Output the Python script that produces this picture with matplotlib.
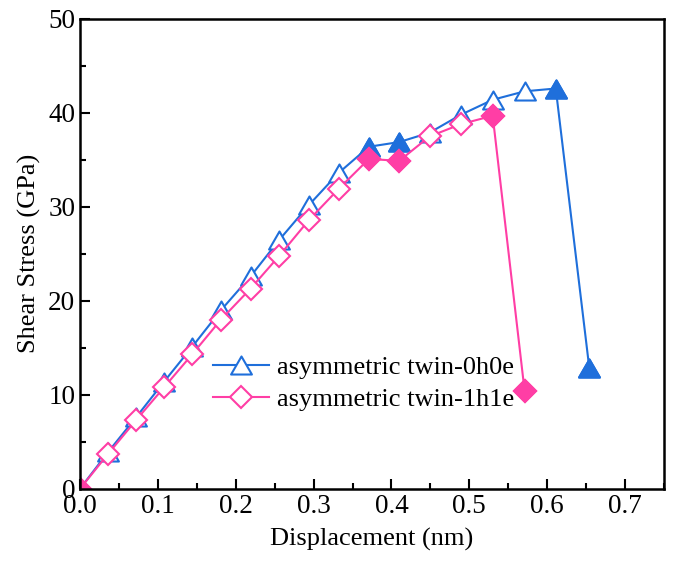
import matplotlib
matplotlib.use("Agg")
import matplotlib.pyplot as plt
from matplotlib.path import Path
from matplotlib.ticker import MultipleLocator

# displacement (nm) and shear stress (GPa)
disp_0h0e = [0.0, 0.036, 0.072, 0.108, 0.144, 0.181, 0.219, 0.256, 0.294,
             0.332, 0.371, 0.410, 0.449, 0.489, 0.530, 0.571, 0.611, 0.654]
stress_0h0e = [0.0, 3.9, 7.6, 11.4, 15.1, 19.0, 22.6, 26.5, 30.2,
               33.6, 36.4, 36.9, 37.9, 39.8, 41.4, 42.3, 42.6, 12.9]
filled_0h0e = [0, 10, 11, 16, 17]

disp_1h1e = [0.0, 0.036, 0.072, 0.108, 0.144, 0.181, 0.219, 0.256, 0.294,
             0.332, 0.371, 0.410, 0.449, 0.489, 0.530, 0.571]
stress_1h1e = [0.0, 3.7, 7.3, 10.8, 14.3, 18.0, 21.3, 24.8, 28.6,
               31.9, 35.1, 34.9, 37.5, 38.8, 39.7, 10.4]
filled_1h1e = [0, 10, 11, 14, 15]

labels = ["asymmetric twin-0h0e", "asymmetric twin-1h1e"]

blue = "#1F6FDB"
pink = "#FF3EA5"
# equilateral-ish triangle like Origin's, closed path
tri = Path([(-1, -0.866), (1, -0.866), (0, 0.866), (-1, -0.866)], closed=True)

plt.rcParams["font.family"] = ["Liberation Serif", "DejaVu Serif"]

fig = plt.figure(figsize=(6.73, 5.70), dpi=100)
ax = fig.add_axes([0.1189, 0.1426, 0.8677, 0.8241])

ax.plot(disp_0h0e, stress_0h0e, color=blue, lw=1.5, marker=tri, ms=15,
        mfc="white", mec=blue, mew=1.5, label=labels[0])
ax.plot([disp_0h0e[i] for i in filled_0h0e],
        [stress_0h0e[i] for i in filled_0h0e],
        ls="none", marker=tri, ms=15, mfc=blue, mec=blue, mew=1.5)

ax.plot(disp_1h1e, stress_1h1e, color=pink, lw=1.5, marker="D", ms=11.5,
        mfc="white", mec=pink, mew=1.5, label=labels[1])
ax.plot([disp_1h1e[i] for i in filled_1h1e],
        [stress_1h1e[i] for i in filled_1h1e],
        ls="none", marker="D", ms=11.5, mfc=pink, mec=pink, mew=1.5)

ax.set_xlim(0, 0.75)
ax.set_ylim(0, 50)
ax.xaxis.set_major_locator(MultipleLocator(0.1))
ax.xaxis.set_minor_locator(MultipleLocator(0.05))
ax.yaxis.set_major_locator(MultipleLocator(10))
ax.yaxis.set_minor_locator(MultipleLocator(5))
ax.xaxis.set_major_formatter(lambda v, p: f"{v:.1f}")
ax.tick_params(which="both", direction="in", top=False, right=False,
               labelsize=19.5, width=1.5)
ax.tick_params(which="major", length=7)
ax.tick_params(which="minor", length=4)
for s in ax.spines.values():
    s.set_linewidth(1.8)

ax.set_xlabel("Displacement (nm)", fontsize=19, labelpad=7)
ax.set_ylabel("Shear Stress (GPa)", fontsize=19, labelpad=5)

ax.legend(loc="upper left", bbox_to_anchor=(0.21, 0.305), frameon=False,
          fontsize=19, handlelength=2.1, handletextpad=0.3,
          labelspacing=0.3, borderaxespad=0)

fig.savefig("out.png", dpi=100)
